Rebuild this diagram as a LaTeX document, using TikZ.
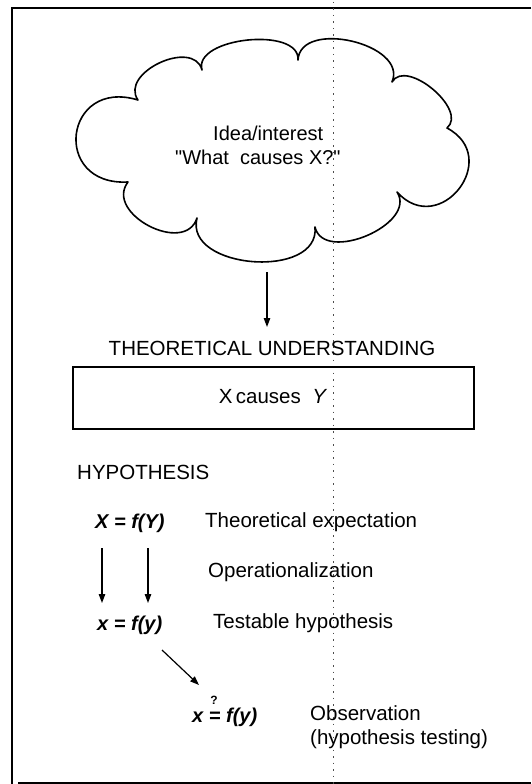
\documentclass[tikz,border=0pt]{standalone}
\usepackage{fontspec}
\setmainfont{Liberation Sans}
\usetikzlibrary{arrows.meta}
\begin{document}
\begin{tikzpicture}[x=1pt,y=-1pt,
  txt/.style={inner sep=0pt,font=\fontsize{20.5}{24}\selectfont},
  ctxt/.style={inner sep=0pt,font=\fontsize{20}{24}\selectfont},
  eqn/.style={inner sep=0pt,font=\fontsize{20}{24}\selectfont\bfseries\itshape},
  arr/.style={line width=1.2pt,-{Triangle[length=9pt,width=6.5pt]}},
  bmp/.style={out=100,in=80,relative,looseness=#1},
  frame/.style={line width=1.6pt}]
\useasboundingbox (0,0) rectangle (531,784);
% frame
\draw[frame] (531,8) -- (12,8) -- (12,784);
\draw[frame] (18,783) -- (531,783);
% fold line
\draw[dash pattern=on 1.5pt off 5pt,line width=0.7pt,black!70] (333,2) -- (333,784);
% cloud
\draw[line width=1.6pt,line join=round]
  (138,100) to[bmp=1.2] (202,70) to[bmp=0.9] (298,60) to[bmp=1.1] (392,82)
  to[bmp=1.0] (447,128) to[bmp=2.0] (397,192) to[bmp=1.1] (315,227)
  to[bmp=1.15] (197,218) to[bmp=1.3] (128,182) to[bmp=2.4] (138,100) -- cycle;
\node[ctxt,anchor=west] (idea) at (213,133) {Idea/interest};
\node[ctxt,anchor=west] (quest) at (175,157) {\textquotedbl What\ \ causes X?\textquotedbl};
\coordinate (cloudbot) at (267,272);
% theory
\node[txt] (theory) at (272,348) {THEORETICAL UNDERSTANDING};
\draw[arr] (cloudbot) -- (cloudbot |- 0,327);
\draw[line width=1.3pt] (73,367) rectangle (474,429);
\node[txt] (xcy) at (273,397) {X\,causes\ \ \textit{Y}};
% hypothesis
\node[txt,anchor=west] (hyp) at (77,472) {HYPOTHESIS};
\node[eqn,anchor=west] (eq1) at (95,523) {X = f(Y)};
\node[txt,anchor=west] (t1) at (205,522) {Theoretical expectation};
\node[txt,anchor=west] (op) at (208,572) {Operationalization};
\node[eqn,anchor=west] (eq2) at (97,625) {x = f(y)};
\node[txt,anchor=west] (t2) at (213,623) {Testable hypothesis};
\node[eqn,anchor=west] (eq3) at (192,717) {x = f(y)};
\node[inner sep=0pt,font=\fontsize{12}{12}\selectfont\bfseries] (qm) at (214,700) {?};
\node[txt,anchor=west,align=left] (t3) at (310,727) {Observation\\(hypothesis testing)};
\coordinate (a1s) at (102,548);
\coordinate (a1e) at (102,603);
\coordinate (a2s) at (148,548);
\coordinate (a2e) at (148,603);
\coordinate (a3s) at (162,650);
\coordinate (a3e) at (199,685);
\draw[arr] (a1s) -- (a1e);
\draw[arr] (a2s) -- (a2e);
\draw[arr] (a3s) -- (a3e);
\end{tikzpicture}
\end{document}
